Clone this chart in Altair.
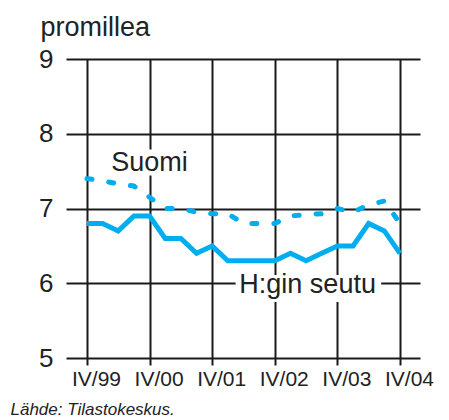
import altair as alt
import pandas as pd

quarters = ["IV/99", "I/00", "II/00", "III/00", "IV/00", "I/01", "II/01", "III/01",
            "IV/01", "I/02", "II/02", "III/02", "IV/02", "I/03", "II/03", "III/03",
            "IV/03", "I/04", "II/04", "III/04", "IV/04"]
suomi = [7.4, 7.37, 7.33, 7.3, 7.15, 7.0, 7.0, 6.95, 6.93, 6.93, 6.8, 6.8, 6.8,
         6.9, 6.92, 6.93, 7.0, 6.95, 7.05, 7.1, 6.8]
helsinki = [6.8, 6.8, 6.7, 6.9, 6.9, 6.6, 6.6, 6.4, 6.5, 6.3, 6.3, 6.3, 6.3,
            6.4, 6.3, 6.4, 6.5, 6.5, 6.8, 6.7, 6.4]
tick_quarters = ["IV/99", "IV/00", "IV/01", "IV/02", "IV/03", "IV/04"]
y_ticks = [5, 6, 7, 8, 9]
label_text = ["Suomi", "H:gin seutu"]
label_x = [4.0, 14.1]
label_y = [7.5, 5.87]
# white boxes behind the labels (quarter index / promille units)
box_x = [1.35, 9.5]
box_x2 = [6.6, 18.8]
box_y = [7.44, 5.75]
box_y2 = [7.79, 6.11]

color = "#00aeef"
idx = list(range(len(quarters)))
tick_idx = [quarters.index(q) for q in tick_quarters]
lab_map = "{" + ",".join(f"'{i}':'{q}'" for i, q in zip(tick_idx, tick_quarters)) + "}"

df = pd.DataFrame({"i": idx + idx,
                   "v": suomi + helsinki,
                   "s": ["Suomi"] * len(idx) + ["H:gin seutu"] * len(idx)})
labels = pd.DataFrame({"t": label_text, "x": label_x, "y": label_y,
                       "bx": box_x, "bx2": box_x2, "by": box_y, "by2": box_y2})

xscale = alt.Scale(domain=[-1.34, 21.28], nice=False, zero=False)
yscale = alt.Scale(domain=[5, 9], nice=False, zero=False)

xaxis = alt.Axis(values=tick_idx, labelExpr=f"{lab_map}[''+datum.value]",
                 grid=True, gridColor="#1a1a1a", gridWidth=2, gridOpacity=1,
                 domain=False, ticks=True, tickSize=7, tickColor="#1a1a1a", tickWidth=2,
                 labelFont="Liberation Sans", labelFontSize=21, labelColor="#222",
                 labelPadding=3, labelOffset=9, labelAngle=0, labelFlush=False,
                 title="Lähde: Tilastokeskus.", titleFont="Liberation Sans",
                 titleFontSize=17, titleFontStyle="italic", titleFontWeight="normal",
                 titleColor="#222", titleAnchor="start", titleAlign="left",
                 titleBaseline="alphabetic", titleX=-56, titleY=56)
yaxis = alt.Axis(values=y_ticks, format="d", grid=True, gridColor="#1a1a1a", gridWidth=2,
                 gridOpacity=1, domain=False, ticks=False,
                 labelFont="Liberation Sans", labelFontSize=26, labelColor="#222",
                 labelPadding=13,
                 title="promillea", titleFont="Liberation Sans", titleFontSize=27,
                 titleFontWeight="normal", titleColor="#222", titleAngle=0,
                 titleAlign="left", titleBaseline="alphabetic", titleX=-26, titleY=-24)

base = alt.Chart(df).encode(
    x=alt.X("i:Q", scale=xscale, axis=xaxis),
    y=alt.Y("v:Q", scale=yscale, axis=yaxis),
)

line_s = base.transform_filter(alt.datum.s == "Suomi").mark_line(
    color=color, strokeWidth=5, strokeDash=[5, 17], strokeCap="round",
    strokeJoin="round")
line_h = base.transform_filter(alt.datum.s == "H:gin seutu").mark_line(
    color=color, strokeWidth=5, strokeJoin="miter", strokeCap="butt")

lchart = alt.Chart(labels)
boxes = lchart.mark_rect(color="white").encode(
    x=alt.X("bx:Q", scale=xscale), x2="bx2:Q",
    y=alt.Y("by:Q", scale=yscale), y2="by2:Q")
txt = lchart.mark_text(font="Liberation Sans", fontSize=27, align="center",
                       baseline="alphabetic", color="#222").encode(
    x=alt.X("x:Q", scale=xscale), y=alt.Y("y:Q", scale=yscale), text="t:N")

chart = alt.layer(boxes, line_s, line_h, txt).properties(
    width=354, height=299,
    padding={"left": 58, "top": 51, "right": 21, "bottom": 62},
    autosize=alt.AutoSizeParams(type="none"),
    background="white",
).configure_view(stroke=None)

chart.save("out.html", embed_options={"renderer": "svg", "actions": False})
